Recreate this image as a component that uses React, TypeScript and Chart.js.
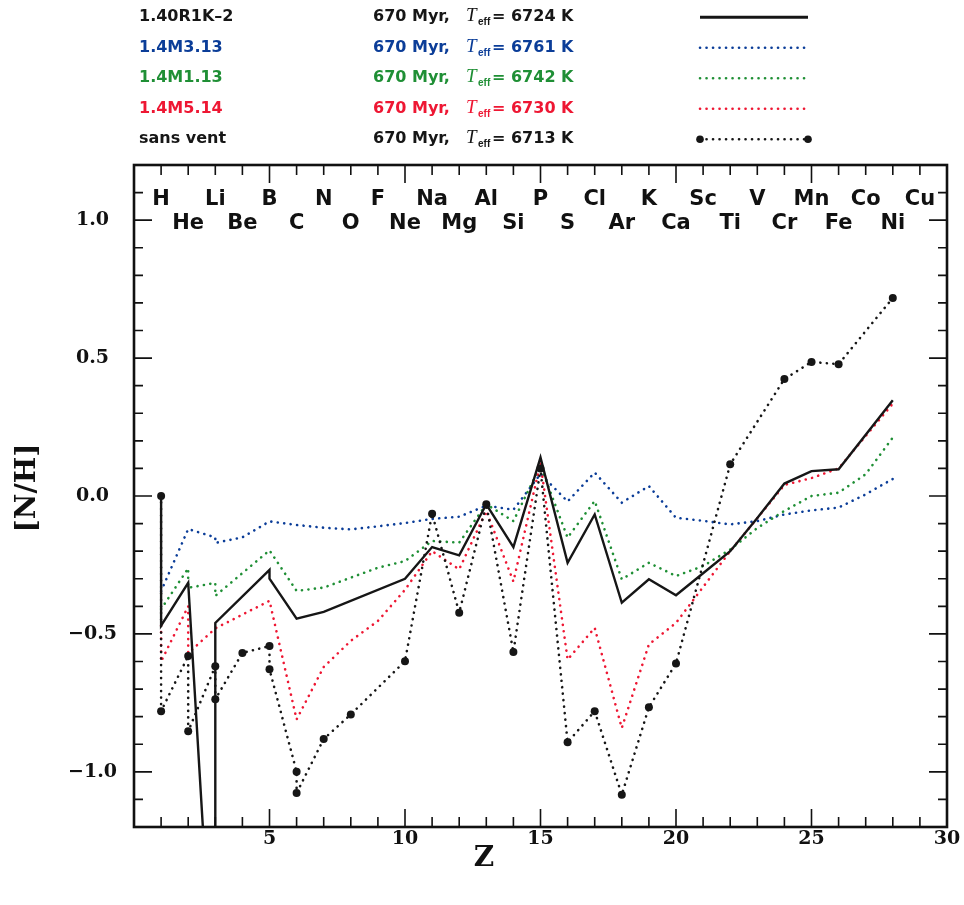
import React, { useEffect, useRef } from "react";
import { Chart, registerables } from "chart.js";

Chart.register(...registerables);

// ---------------- data ----------------
const elementSymbols = [
  "H", "He", "Li", "Be", "B", "C", "N", "O", "F", "Ne",
  "Na", "Mg", "Al", "Si", "P", "S", "Cl", "Ar", "K", "Ca",
  "Sc", "Ti", "V", "Cr", "Mn", "Fe", "Co", "Ni", "Cu",
];

const xTickValues = [5, 10, 15, 20, 25, 30];
const yTickValues = [-1.0, -0.5, 0.0, 0.5, 1.0];

const modelNames = ["1.40R1K–2", "1.4M3.13", "1.4M1.13", "1.4M5.14", "sans vent"];
const modelAges = ["670 Myr,", "670 Myr,", "670 Myr,", "670 Myr,", "670 Myr,"];
const modelTeff = [6724, 6761, 6742, 6730, 6713];

// 1.40R1K-2 (solid)
const zR1K = [1, 1, 2, 3, 3, 5, 5, 6, 7, 10, 11, 12, 13, 14, 15, 16, 17, 18, 19, 20, 21, 22, 23, 24, 25, 26, 28];
const nhR1K = [0.0, -0.47, -0.315, -1.95, -0.46, -0.268, -0.3, -0.445, -0.42, -0.3, -0.185, -0.215, -0.03, -0.185, 0.14, -0.242, -0.067, -0.387, -0.302, -0.36, -0.28, -0.2, -0.08, 0.045, 0.09, 0.097, 0.347];

// 1.4M3.13 (blue dotted)
const zM313 = [1, 2, 3, 3, 4, 5, 6, 7, 8, 9, 10, 11, 12, 13, 14, 15, 16, 17, 18, 19, 20, 21, 22, 23, 24, 25, 26, 27, 28];
const nhM313 = [-0.345, -0.12, -0.15, -0.17, -0.15, -0.092, -0.105, -0.115, -0.121, -0.11, -0.098, -0.083, -0.075, -0.035, -0.05, 0.08, -0.02, 0.085, -0.024, 0.036, -0.079, -0.09, -0.103, -0.091, -0.067, -0.052, -0.042, 0.006, 0.062];

// 1.4M1.13 (green dotted)
const zM113 = [1, 2, 2, 3, 3, 5, 6, 7, 8, 9, 10, 11, 12, 13, 14, 15, 16, 17, 18, 19, 20, 21, 22, 23, 24, 25, 26, 27, 28];
const nhM113 = [-0.41, -0.262, -0.333, -0.315, -0.362, -0.197, -0.344, -0.332, -0.296, -0.26, -0.236, -0.163, -0.169, -0.03, -0.091, 0.11, -0.151, -0.018, -0.302, -0.242, -0.29, -0.254, -0.194, -0.116, -0.054, 0.0, 0.012, 0.079, 0.212];

// 1.4M5.14 (red dotted)
const zM514 = [1, 1, 2, 2, 3, 5, 6, 7, 8, 9, 10, 11, 12, 13, 14, 15, 16, 17, 18, 19, 20, 21, 22, 23, 24, 25, 26, 28];
const nhM514 = [-0.47, -0.6, -0.4, -0.57, -0.48, -0.38, -0.81, -0.62, -0.525, -0.453, -0.34, -0.2, -0.266, -0.054, -0.31, 0.12, -0.593, -0.478, -0.841, -0.538, -0.46, -0.33, -0.2, -0.08, 0.04, 0.065, 0.1, 0.335];

// sans vent (black dotted with markers)
const zSans = [1, 1, 2, 2, 3, 3, 4, 5, 5, 6, 6, 7, 8, 10, 11, 12, 13, 14, 15, 16, 17, 18, 19, 20, 22, 24, 25, 26, 28];
const nhSans = [0.0, -0.78, -0.58, -0.853, -0.617, -0.737, -0.569, -0.544, -0.628, -1.0, -1.077, -0.881, -0.792, -0.599, -0.064, -0.423, -0.03, -0.566, 0.1, -0.893, -0.78, -1.083, -0.766, -0.607, 0.115, 0.424, 0.486, 0.478, 0.718];

// ---------------- styles ----------------
const BLACK = "#161616";
const BLUE = "#0b3d98";
const GREEN = "#1f8f35";
const RED = "#ee1733";
const rowColors = [BLACK, BLUE, GREEN, RED, BLACK];
const rowKinds = ["solid", "dotted", "dotted", "dotted", "markers"];
const DOT_DASH = [0.1, 6.4];

function toPoints(z: number[], v: number[]) {
  return z.map((x, i) => ({ x, y: v[i] }));
}

const decorPlugin = {
  id: "decor",
  afterDraw(chart: any) {
    const { ctx, chartArea: a, scales } = chart;
    const xs = scales.x;
    const ys = scales.y;
    ctx.save();

    // frame
    ctx.strokeStyle = "#111";
    ctx.setLineDash([]);
    ctx.lineWidth = 2.6;
    ctx.strokeRect(a.left, a.top, a.right - a.left, a.bottom - a.top);

    // inward ticks
    ctx.lineWidth = 1.6;
    ctx.beginPath();
    for (let z = 1; z < 30; z++) {
      const px = xs.getPixelForValue(z);
      const len = z % 5 === 0 ? 18 : 10;
      ctx.moveTo(px, a.bottom);
      ctx.lineTo(px, a.bottom - len);
      ctx.moveTo(px, a.top);
      ctx.lineTo(px, a.top + len);
    }
    for (let k = -11; k <= 11; k++) {
      const py = ys.getPixelForValue(k / 10);
      const len = k % 5 === 0 ? 18 : 9;
      ctx.moveTo(a.left, py);
      ctx.lineTo(a.left + len, py);
      ctx.moveTo(a.right, py);
      ctx.lineTo(a.right - len, py);
    }
    ctx.stroke();

    // element symbols
    ctx.fillStyle = "#111";
    ctx.font = "bold 21px 'DejaVu Sans'";
    ctx.textAlign = "center";
    ctx.textBaseline = "alphabetic";
    elementSymbols.forEach((s, i) => {
      const z = i + 1;
      const px = xs.getPixelForValue(z);
      const y = z % 2 === 1 ? a.top + 40 : a.top + 63.5;
      ctx.fillText(s, px, y);
    });

    // axis titles
    ctx.font = "bold 28px 'DejaVu Serif'";
    ctx.textBaseline = "middle";
    ctx.fillText("Z", 484, 859);
    ctx.save();
    ctx.translate(28, 488);
    ctx.rotate(-Math.PI / 2);
    ctx.fillText("[N/H]", 0, 0);
    ctx.restore();

    // legend
    ctx.textAlign = "left";
    ctx.textBaseline = "alphabetic";
    for (let i = 0; i < modelNames.length; i++) {
      const base = 21 + i * 30.5;
      const col = rowColors[i];
      ctx.fillStyle = col;
      ctx.font = "bold 16px 'DejaVu Sans'";
      ctx.fillText(modelNames[i], 139, base);
      ctx.fillText(modelAges[i], 373, base);
      ctx.font = "italic 19px 'Liberation Serif'";
      ctx.fillText("T", 466, base);
      ctx.font = "bold 10px 'Liberation Sans'";
      ctx.fillText("eff", 478, base + 4);
      ctx.font = "bold 16px 'DejaVu Sans'";
      ctx.fillText("= " + modelTeff[i] + " K", 492, base);

      const ly = base - 3.7;
      ctx.strokeStyle = col;
      ctx.beginPath();
      if (rowKinds[i] === "solid") {
        ctx.setLineDash([]);
        ctx.lineWidth = 3;
        ctx.lineCap = "butt";
      } else {
        ctx.setLineDash(DOT_DASH);
        ctx.lineWidth = 2.6;
        ctx.lineCap = "round";
      }
      ctx.moveTo(700, ly);
      ctx.lineTo(808, ly);
      ctx.stroke();
      ctx.setLineDash([]);
      if (rowKinds[i] === "markers") {
        ctx.fillStyle = col;
        [700, 808].forEach((mx) => {
          ctx.beginPath();
          ctx.arc(mx, ly, 3.8, 0, Math.PI * 2);
          ctx.fill();
        });
      }
    }
    ctx.restore();
  },
};

const dotted = {
  borderDash: DOT_DASH,
  borderCapStyle: "round" as const,
  borderWidth: 2.6,
  pointRadius: 0,
  tension: 0,
};

export default function App() {
  const ref = useRef<HTMLCanvasElement>(null);

  useEffect(() => {
    const canvas = ref.current;
    if (!canvas) return;
    const chart = new Chart(canvas, {
      type: "line",
      data: {
        datasets: [
          {
            label: modelNames[4],
            data: toPoints(zSans, nhSans),
            borderColor: BLACK,
            ...dotted,
            pointRadius: 4,
            pointBackgroundColor: BLACK,
            pointBorderWidth: 0,
          },
          {
            label: modelNames[0],
            data: toPoints(zR1K, nhR1K),
            borderColor: BLACK,
            borderWidth: 2.4,
            pointRadius: 0,
            tension: 0,
          },
          { label: modelNames[3], data: toPoints(zM514, nhM514), borderColor: RED, ...dotted },
          { label: modelNames[2], data: toPoints(zM113, nhM113), borderColor: GREEN, ...dotted },
          { label: modelNames[1], data: toPoints(zM313, nhM313), borderColor: BLUE, ...dotted },
        ] as any,
      },
      options: {
        animation: false,
        responsive: false,
        devicePixelRatio: 1,
        events: [],
        layout: { padding: { left: 0, top: 165, right: 17, bottom: 0 } },
        plugins: { legend: { display: false }, tooltip: { enabled: false } },
        scales: {
          x: {
            type: "linear",
            min: 0,
            max: 30,
            afterBuildTicks: (s: any) => {
              s.ticks = xTickValues.map((v) => ({ value: v }));
            },
            afterFit: (s: any) => {
              s.height = 78;
            },
            grid: { display: false, drawTicks: false },
            border: { display: false },
            ticks: {
              color: "#111",
              padding: 1,
              maxRotation: 0,
              font: { family: "DejaVu Serif", weight: "bold", size: 19 },
              callback: (v: any) => String(v),
            },
          },
          y: {
            type: "linear",
            min: -1.2,
            max: 1.2,
            afterBuildTicks: (s: any) => {
              s.ticks = yTickValues.map((v) => ({ value: v }));
            },
            afterFit: (s: any) => {
              s.width = 134;
            },
            grid: { display: false, drawTicks: false },
            border: { display: false },
            ticks: {
              color: "#111",
              padding: 17,
              crossAlign: "center",
              font: { family: "DejaVu Serif", weight: "bold", size: 19 },
              callback: (v: any) => (Number(v) < 0 ? "\u2212" : "") + Math.abs(Number(v)).toFixed(1),
            },
          },
        },
      } as any,
      plugins: [decorPlugin],
    });
    return () => chart.destroy();
  }, []);

  return (
    <div style={{ position: "absolute", left: 0, top: 0, width: 964, height: 905, background: "#fff" }}>
      <canvas ref={ref} width={964} height={905} style={{ display: "block", width: 964, height: 905 }} />
    </div>
  );
}
